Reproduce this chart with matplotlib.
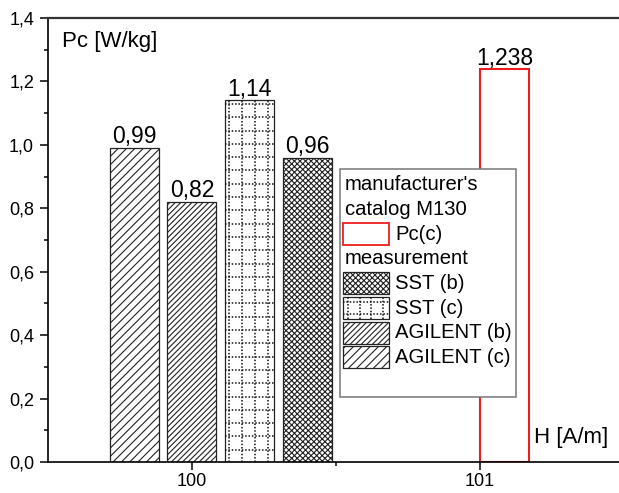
import matplotlib.pyplot as plt
import numpy as np
from matplotlib.patches import Rectangle
from matplotlib.lines import Line2D
from matplotlib.transforms import IdentityTransform
from matplotlib.ticker import MultipleLocator, FixedLocator, FuncFormatter

plt.rcParams['font.family'] = ['Liberation Sans', 'DejaVu Sans']
plt.rcParams['hatch.linewidth'] = 0.8

# measured bars (order as drawn left to right)
meas_names = ['AGILENT (c)', 'AGILENT (b)', 'SST (c)', 'SST (b)']
meas_pos = [99.8, 100.0, 100.2, 100.4]
meas_vals = [0.99, 0.82, 1.14, 0.96]
meas_hatch = ['////', '//////', 'grid', 'xxxxxx']

# manufacturer's catalog bar
cat_name = 'Pc(c)'
cat_pos = [101.0]
cat_vals = [1.238]

x_ticks = [100, 101]
y_ticks = [0.0, 0.2, 0.4, 0.6, 0.8, 1.0, 1.2, 1.4]

W, H = 619, 493
BAR_W = 0.17


def comma(v, fmt='{}'):
    return fmt.format(v).replace('.', ',')


def px(x, y):
    # pixel (from top-left) -> figure fraction
    return x / W, 1 - y / H


def dotted_grid(fig, patch, step=13.3, offset=3.5):
    # dotted grid texture drawn in display pixels, clipped to the patch
    bb = patch.get_window_extent(fig.canvas.get_renderer())
    kw = dict(color='#111111', lw=1.1, linestyle=(0, (1.0, 1.2)), transform=IdentityTransform(),
              zorder=patch.get_zorder() + 0.5)
    for x in np.arange(bb.x0 + offset, bb.x1, step):
        ln = Line2D([x, x], [bb.y0, bb.y1], **kw)
        fig.add_artist(ln)
        ln.set_clip_path(patch)
    for y in np.arange(bb.y1 - offset, bb.y0, -step):
        ln = Line2D([bb.x0, bb.x1], [y, y], **kw)
        fig.add_artist(ln)
        ln.set_clip_path(patch)


fig = plt.figure(figsize=(W / 100, H / 100), dpi=100)
ax = fig.add_axes([48 / W, 1 - 462 / H, 1 - 48 / W, 444 / H])

grid_patches = []
for x, v, h in zip(meas_pos, meas_vals, meas_hatch):
    bars = ax.bar(x, v, width=BAR_W, color='white', edgecolor='#222222', linewidth=0.9,
                  hatch=None if h == 'grid' else h, zorder=2)
    if h == 'grid':
        grid_patches.append(bars[0])
    ax.annotate(comma(v), (x, v), xytext=(0, 3.5), textcoords='offset points',
                ha='center', va='baseline', fontsize=16.5)

for x, v in zip(cat_pos, cat_vals):
    ax.bar(x, v, width=BAR_W, align='edge', color='white', edgecolor='#ee1c1c', linewidth=1.5, zorder=2)
    ax.annotate(comma(v), (x + BAR_W / 2, v), xytext=(0, 3.5), textcoords='offset points',
                ha='center', va='baseline', fontsize=16.5)

ax.set_xlim(99.5, 101.483)
ax.set_ylim(0, 1.4)
ax.xaxis.set_major_locator(FixedLocator(x_ticks))
ax.xaxis.set_minor_locator(FixedLocator([100.5]))
ax.xaxis.set_major_formatter(FuncFormatter(lambda v, p: '{:.0f}'.format(v)))
ax.yaxis.set_major_locator(FixedLocator(y_ticks))
ax.yaxis.set_minor_locator(MultipleLocator(0.1))
ax.yaxis.set_major_formatter(FuncFormatter(lambda v, p: comma(v, '{:.1f}')))
ax.tick_params(which='major', length=6, width=1.1, labelsize=13, direction='out')
ax.tick_params(which='minor', length=3, width=1.1, direction='out')
ax.tick_params(axis='y', pad=4)
ax.tick_params(axis='x', pad=2)

ax.spines['right'].set_visible(False)
for s in ['left', 'bottom']:
    ax.spines[s].set_linewidth(1.2)
ax.spines['top'].set_linewidth(1.6)
ax.spines['top'].set_color('#333333')

fig.text(*px(62, 41), 'Pc [W/kg]', fontsize=16, ha='left', va='center')
fig.text(*px(534, 438), 'H [A/m]', fontsize=16, ha='left', va='center')

# legend, drawn by hand so the header lines sit flush left
box = Rectangle(px(340, 397), 176 / W, 228 / H, transform=fig.transFigure,
                facecolor='white', edgecolor='#777777', linewidth=1.1, zorder=5)
fig.add_artist(box)

rows = [("manufacturer's", None), ('catalog M130', None), (cat_name, 'cat'),
        ('measurement', None)]
for name, h in zip(meas_names[::-1], meas_hatch[::-1]):
    rows.append((name, h))

legend_grid = []
for i, (label, h) in enumerate(rows):
    yc = 185 + i * 24.6
    if h is None:
        fig.text(*px(345, yc), label, fontsize=14.6, ha='left', va='center', zorder=6)
        continue
    if h == 'cat':
        r = Rectangle(px(343, yc + 11), 46 / W, 22 / H, transform=fig.transFigure,
                      facecolor='white', edgecolor='#ee1c1c', linewidth=1.3, zorder=6)
    else:
        r = Rectangle(px(343, yc + 11), 46 / W, 22 / H, transform=fig.transFigure,
                      facecolor='white', edgecolor='#222222', linewidth=0.9,
                      hatch=None if h == 'grid' else h, zorder=6)
        if h == 'grid':
            legend_grid.append(r)
    fig.add_artist(r)
    fig.text(*px(395, yc), label, fontsize=14.6, ha='left', va='center', zorder=6)

fig.canvas.draw()
for p in grid_patches:
    dotted_grid(fig, p)
for p in legend_grid:
    dotted_grid(fig, p, step=11.7, offset=5)

fig.savefig('out.png', dpi=100)
